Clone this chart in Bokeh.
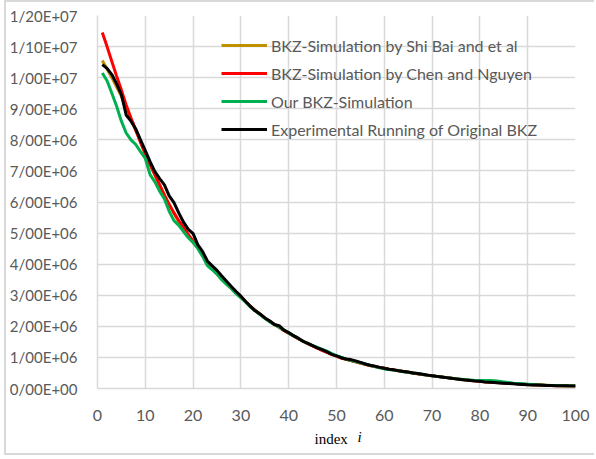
from bokeh.plotting import figure
from bokeh.models import Range1d, FixedTicker, Legend, LegendItem, Label
from bokeh.embed import file_html
from bokeh.resources import INLINE

index = list(range(1, 101))

# values in units of 1e6
shi_bai = [10.55, 10.28, 10.00, 9.70, 9.40, 9.05, 8.68, 8.30, 7.93, 7.56,
           7.21, 6.87, 6.54, 6.22, 5.91, 5.63, 5.37, 5.15, 4.90, 4.70,
           4.52, 4.27, 4.02, 3.85, 3.68, 3.51, 3.36, 3.21, 3.06, 2.93,
           2.79, 2.64, 2.51, 2.39, 2.27, 2.16, 2.06, 1.97, 1.87, 1.78,
           1.69, 1.60, 1.52, 1.44, 1.37, 1.30, 1.23, 1.16, 1.10, 1.04,
           0.98, 0.94, 0.90, 0.86, 0.82, 0.78, 0.74, 0.71, 0.68, 0.65,
           0.62, 0.60, 0.57, 0.55, 0.52, 0.50, 0.47, 0.45, 0.43, 0.41,
           0.39, 0.37, 0.35, 0.33, 0.31, 0.29, 0.28, 0.26, 0.25, 0.23,
           0.22, 0.21, 0.20, 0.19, 0.18, 0.17, 0.16, 0.15, 0.14, 0.13,
           0.12, 0.115, 0.11, 0.10, 0.095, 0.09, 0.087, 0.084, 0.082, 0.08]

chen_nguyen = [11.45, 11.00, 10.52, 10.05, 9.60, 9.12, 8.70, 8.32, 7.92, 7.55,
               7.20, 6.88, 6.55, 6.22, 5.92, 5.65, 5.40, 5.20, 4.95, 4.75,
               4.55, 4.30, 4.05, 3.87, 3.70, 3.53, 3.38, 3.23, 3.08, 2.94,
               2.79, 2.64, 2.51, 2.39, 2.27, 2.16, 2.06, 1.97, 1.87, 1.78,
               1.69, 1.60, 1.52, 1.44, 1.37, 1.30, 1.23, 1.16, 1.10, 1.04,
               0.98, 0.94, 0.90, 0.86, 0.82, 0.78, 0.74, 0.71, 0.68, 0.65,
               0.62, 0.60, 0.57, 0.55, 0.52, 0.50, 0.47, 0.45, 0.43, 0.41,
               0.39, 0.37, 0.35, 0.33, 0.31, 0.29, 0.28, 0.26, 0.25, 0.23,
               0.22, 0.21, 0.20, 0.19, 0.18, 0.17, 0.16, 0.15, 0.14, 0.13,
               0.12, 0.115, 0.11, 0.10, 0.095, 0.09, 0.087, 0.084, 0.082, 0.08]

our_sim = [10.15, 9.90, 9.50, 9.08, 8.60, 8.22, 8.00, 7.85, 7.62, 7.40,
           6.88, 6.65, 6.35, 6.10, 5.70, 5.40, 5.25, 5.05, 4.85, 4.70,
           4.50, 4.25, 3.95, 3.82, 3.68, 3.50, 3.35, 3.22, 3.05, 2.92,
           2.78, 2.62, 2.50, 2.38, 2.26, 2.15, 2.06, 1.97, 1.88, 1.79,
           1.70, 1.61, 1.52, 1.45, 1.38, 1.32, 1.26, 1.20, 1.12, 1.06,
           1.00, 0.95, 0.91, 0.87, 0.83, 0.79, 0.75, 0.71, 0.67, 0.63,
           0.61, 0.59, 0.57, 0.54, 0.52, 0.50, 0.48, 0.45, 0.43, 0.41,
           0.39, 0.37, 0.35, 0.33, 0.31, 0.30, 0.28, 0.27, 0.26, 0.26,
           0.26, 0.26, 0.25, 0.23, 0.21, 0.19, 0.17, 0.16, 0.15, 0.14,
           0.13, 0.12, 0.11, 0.105, 0.10, 0.095, 0.09, 0.088, 0.085, 0.082]

experimental = [10.42, 10.30, 10.10, 9.80, 9.45, 8.80, 8.60, 8.35, 8.00, 7.65,
                7.30, 6.98, 6.75, 6.55, 6.20, 5.98, 5.65, 5.35, 5.12, 4.98,
                4.62, 4.40, 4.10, 3.95, 3.80, 3.62, 3.45, 3.28, 3.12, 2.97,
                2.80, 2.64, 2.50, 2.40, 2.27, 2.18, 2.06, 2.02, 1.88, 1.80,
                1.70, 1.62, 1.52, 1.45, 1.38, 1.31, 1.25, 1.18, 1.10, 1.05,
                0.99, 0.95, 0.93, 0.89, 0.84, 0.79, 0.75, 0.72, 0.68, 0.65,
                0.62, 0.60, 0.57, 0.55, 0.53, 0.50, 0.48, 0.46, 0.43, 0.41,
                0.39, 0.37, 0.35, 0.33, 0.31, 0.29, 0.27, 0.26, 0.24, 0.23,
                0.21, 0.20, 0.19, 0.18, 0.17, 0.16, 0.15, 0.14, 0.13, 0.12,
                0.115, 0.11, 0.105, 0.10, 0.095, 0.09, 0.087, 0.085, 0.082, 0.08]

series_names = ["BKZ-Simulation by Shi Bai and et al",
                "BKZ-Simulation by Chen and Nguyen",
                "Our BKZ-Simulation",
                "Experimental Running of Original BKZ"]
series_colors = ["#BF9000", "#FF0000", "#00B050", "#000000"]

y_ticks = [0, 1e6, 2e6, 3e6, 4e6, 5e6, 6e6, 7e6, 8e6, 9e6, 10e6, 11e6, 12e6]
y_tick_labels = ["0/00E+00", "1/00E+06", "2/00E+06", "3/00E+06", "4/00E+06",
                 "5/00E+06", "6/00E+06", "7/00E+06", "8/00E+06", "9/00E+06",
                 "1/00E+07", "1/10E+07", "1/20E+07"]
x_ticks = [0, 10, 20, 30, 40, 50, 60, 70, 80, 90, 100]
x_title = "index"
x_title_var = "i"

GRID = "#d9d9d9"
TXT = "#595959"
FONT = "Lato"

p = figure(width=590, height=455, output_backend="svg", toolbar_location=None,
           x_range=Range1d(0, 100), y_range=Range1d(0, 12e6),
           min_border_left=91, min_border_right=21, min_border_top=13,
           min_border_bottom=69)
p.styles = {"margin-left": "4px",
            "border-left": "2px solid #d9d9d9",
            "border-top": "2px solid #d9d9d9",
            "border-bottom": "2px solid #d9d9d9"}
p.outline_line_color = None
p.background_fill_color = "white"
p.border_fill_color = "white"

for ax in (p.xaxis[0], p.yaxis[0]):
    ax.axis_line_color = GRID
    ax.axis_line_width = 1.5
    ax.major_tick_line_color = None
    ax.minor_tick_line_color = None
    ax.major_label_text_color = TXT
    ax.major_label_text_font = FONT
    ax.major_label_text_font_size = "16px"
p.yaxis[0].major_label_text_font_size = "15px"

p.xaxis[0].ticker = FixedTicker(ticks=x_ticks)
p.yaxis[0].ticker = FixedTicker(ticks=y_ticks)
p.yaxis[0].major_label_overrides = {t: l for t, l in zip(y_ticks, y_tick_labels)}
p.yaxis[0].major_label_standoff = 14
p.xaxis[0].major_label_standoff = 15

for g in (p.xgrid[0], p.ygrid[0]):
    g.grid_line_color = GRID
    g.grid_line_width = 1.5

items = []
for name, vals, col in zip(series_names, [shi_bai, chen_nguyen, our_sim, experimental], series_colors):
    r = p.line(index, [v * 1e6 for v in vals], line_color=col, line_width=3)
    items.append(LegendItem(label=name, renderers=[r]))

legend = Legend(items=items, location=(124, 249), orientation="vertical",
                glyph_width=46, glyph_height=20, label_height=20, spacing=8,
                label_standoff=4, padding=0, margin=0,
                border_line_color=None, background_fill_alpha=0,
                label_text_color=TXT, label_text_font=FONT,
                label_text_font_size="16px")
p.add_layout(legend, "center")

p.add_layout(Label(x=217, y=1, x_units="screen", y_units="screen", text=x_title,
                   text_font="Liberation Serif", text_font_size="15px",
                   text_color="#000000", text_baseline="middle", text_align="left"),
             "below")
p.add_layout(Label(x=260, y=19, x_units="screen", y_units="screen", text=x_title_var,
                   text_font="Liberation Serif", text_font_style="italic",
                   text_font_size="15px", text_color="#000000",
                   text_baseline="middle", text_align="left"),
             "below")

open("out.html", "w").write(file_html(p, INLINE))
